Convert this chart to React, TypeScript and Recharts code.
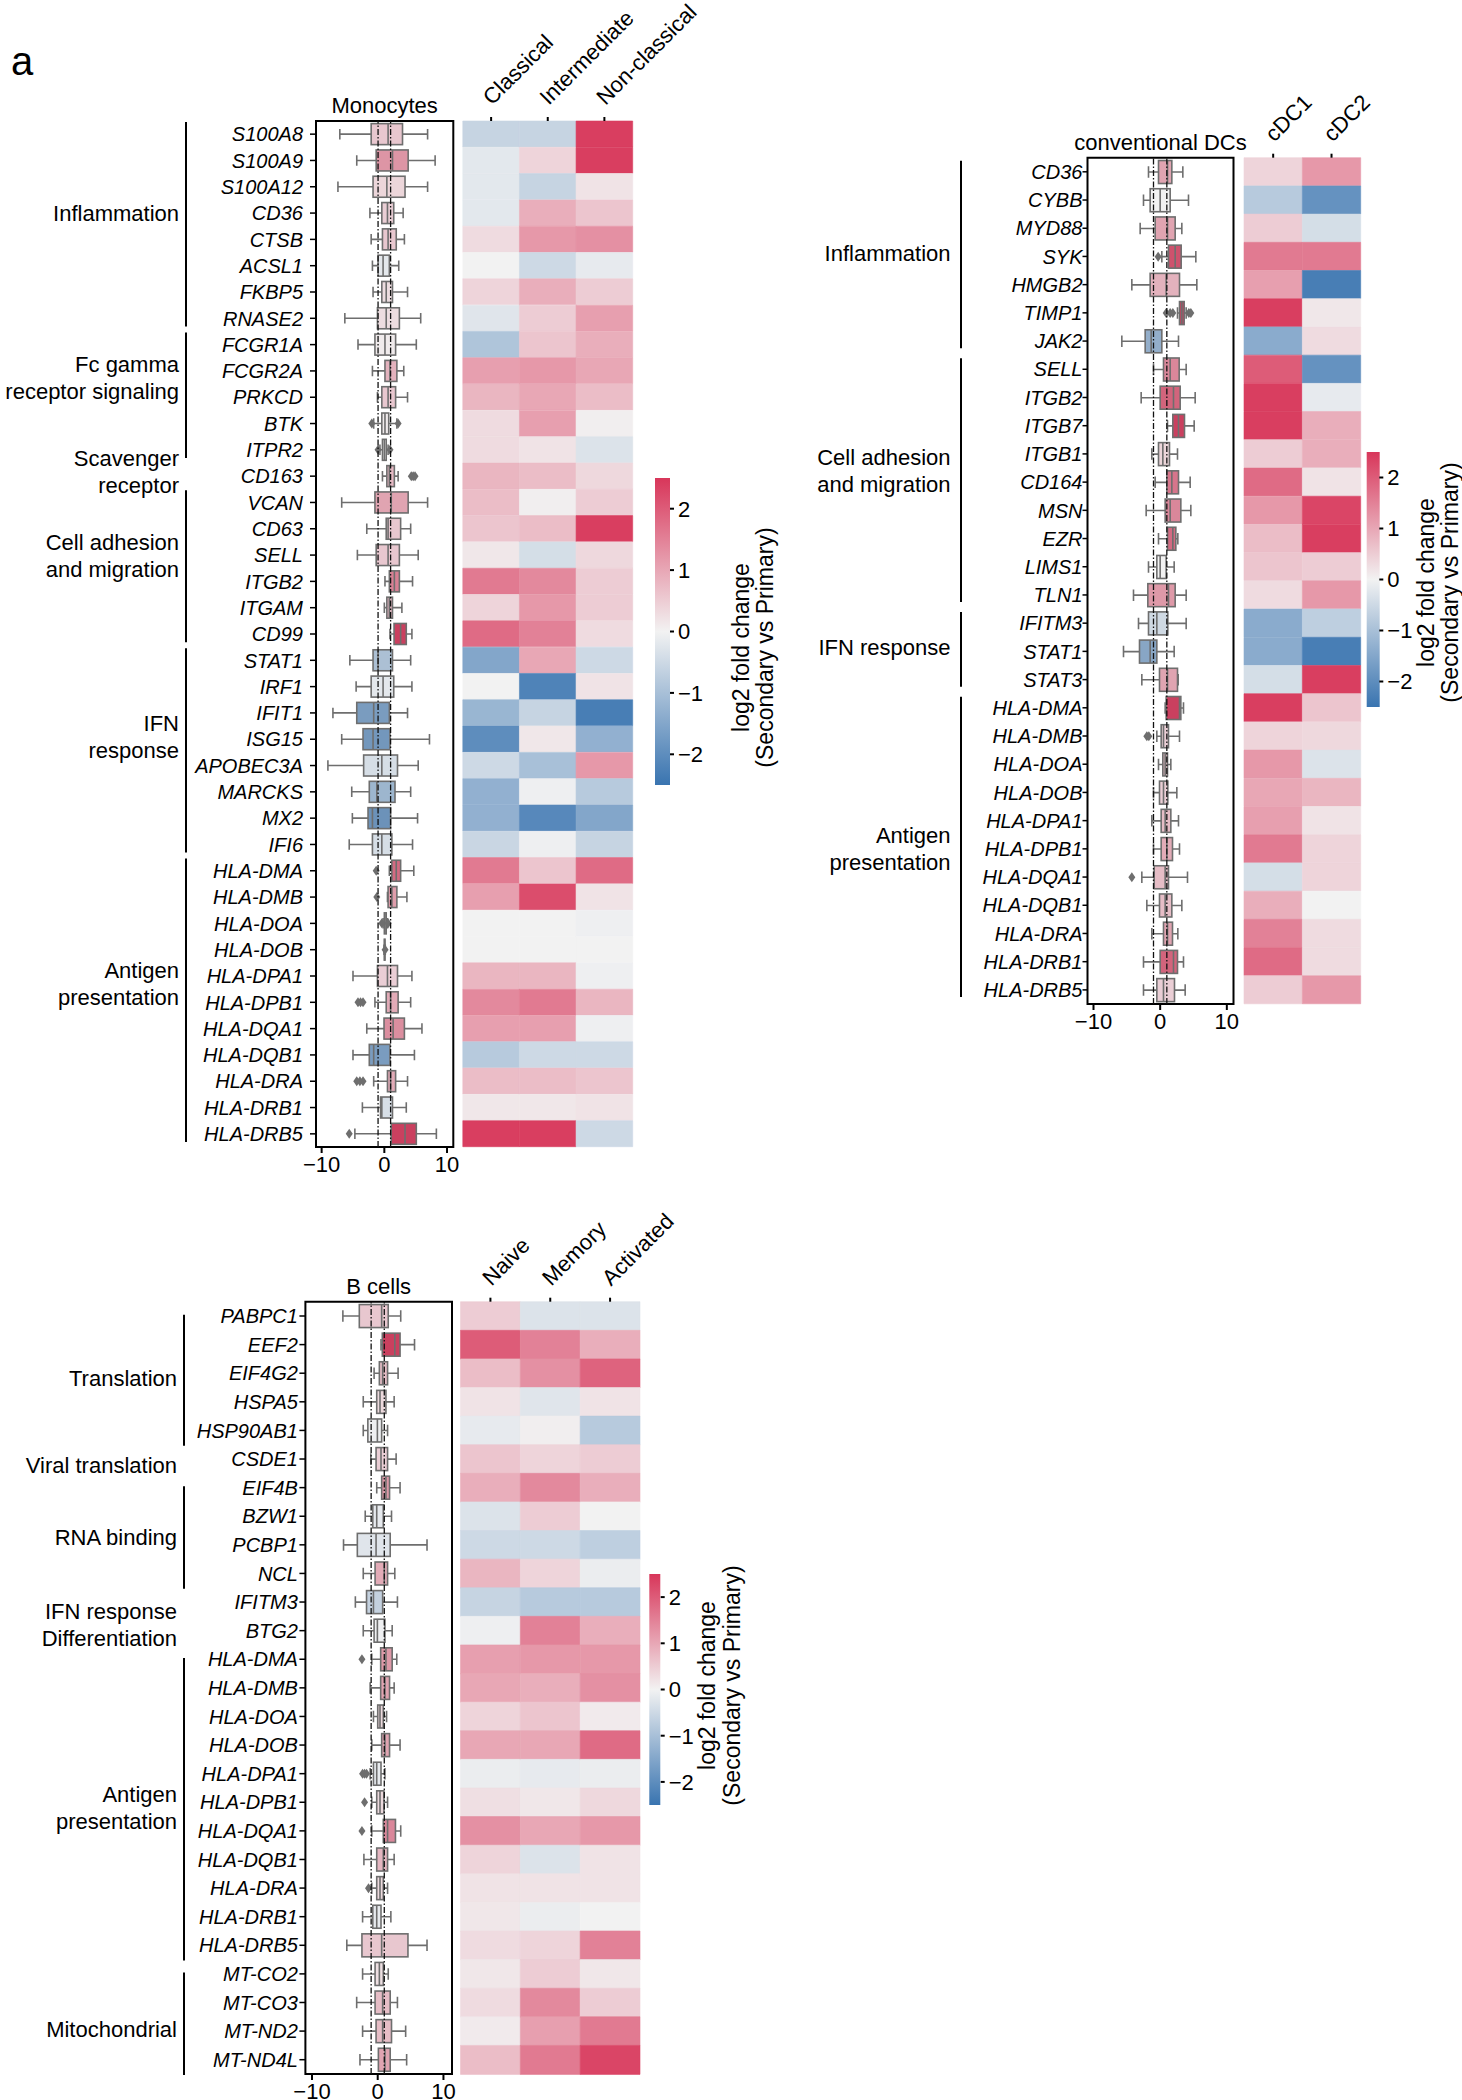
import React from "react";
import {
  Bar,
  BarChart,
  Cell,
  ComposedChart,
  ReferenceArea,
  ReferenceLine,
  XAxis,
  YAxis,
} from "recharts";

const FONT = '"Liberation Sans", Arial, Helvetica, sans-serif';

// ---------- Monocytes ----------
const monoGenes = [
  "S100A8", "S100A9", "S100A12", "CD36", "CTSB", "ACSL1", "FKBP5", "RNASE2",
  "FCGR1A", "FCGR2A", "PRKCD", "BTK", "ITPR2", "CD163", "VCAN", "CD63", "SELL",
  "ITGB2", "ITGAM", "CD99", "STAT1", "IRF1", "IFIT1", "ISG15", "APOBEC3A",
  "MARCKS", "MX2", "IFI6", "HLA-DMA", "HLA-DMB", "HLA-DOA", "HLA-DOB",
  "HLA-DPA1", "HLA-DPB1", "HLA-DQA1", "HLA-DQB1", "HLA-DRA", "HLA-DRB1", "HLA-DRB5",
];
const monoLow = [-7.1, -4.4, -7.4, -2.3, -2.1, -1.9, -1.8, -6.3, -4.2, -1.9, -1.1, -1.7, -0.7, -0.3, -6.8, -2.8, -4.3, 0.1, 0.0, 0.9, -5.5, -4.5, -8.2, -6.8, -9.0, -5.2, -5.1, -5.6, 0.8, 0.5, -0.2, -0.05, -5.0, -1.5, -2.8, -5.0, -1.7, -3.5, -4.7];
const monoQ1 = [-2.1, -1.3, -1.8, -0.4, -0.3, -1.0, -0.4, -1.1, -1.5, 0.1, -0.4, -0.4, -0.3, 0.4, -1.5, 0.3, -1.3, 0.8, 0.4, 1.55, -1.8, -2.1, -4.4, -3.4, -3.3, -2.4, -2.6, -1.9, 1.2, 0.6, 0.0, 0.0, -1.1, 0.3, -0.05, -2.4, 0.5, -0.6, 1.1];
const monoMed = [0.6, 1.3, 0.4, 0.5, 0.6, -0.2, 0.3, 0.3, 0.1, 0.9, 0.6, 0.1, 0.0, 0.8, 1.1, 0.6, 0.6, 1.6, 0.8, 2.6, -1.0, -0.2, -1.7, -1.8, -0.4, -1.2, -1.9, -0.4, 1.9, 1.2, 0.1, 0.05, 0.5, 1.0, 1.4, -1.7, 1.0, -0.4, 3.3];
const monoQ3 = [2.9, 3.8, 3.3, 1.5, 1.9, 0.8, 1.3, 2.4, 1.8, 2.0, 1.8, 0.7, 0.3, 1.6, 3.8, 2.6, 2.4, 2.4, 1.3, 3.5, 1.3, 1.5, 0.8, 0.9, 2.1, 1.7, 1.0, 1.2, 2.6, 2.0, 0.3, 0.1, 2.1, 2.2, 3.2, 0.9, 1.8, 1.3, 5.1];
const monoHigh = [6.9, 8.1, 6.9, 3.0, 3.2, 2.3, 3.7, 5.8, 5.1, 3.1, 3.7, 2.0, 0.6, 2.2, 6.9, 4.2, 5.4, 4.5, 2.8, 4.4, 4.2, 4.4, 3.7, 7.2, 5.4, 4.2, 5.3, 4.5, 4.7, 3.6, 0.5, 0.15, 4.4, 4.2, 6.0, 4.8, 3.7, 3.5, 8.3];
const monoOutliers: Record<string, number[]> = {
  BTK: [-2.0, 2.2],
  ITPR2: [-1.0, 0.9],
  CD163: [4.3, 4.6, 4.9],
  "HLA-DMA": [-1.3],
  "HLA-DMB": [-1.2],
  "HLA-DOA": [-0.4, 0.6],
  "HLA-DOB": [0.12],
  "HLA-DPB1": [-4.2, -3.8, -3.4],
  "HLA-DRA": [-4.4, -3.9, -3.4],
  "HLA-DRB5": [-5.6],
};
const monoCols = ["Classical", "Intermediate", "Non-classical"];
const monoClassical = [-0.6, -0.2, -0.2, -0.2, 0.3, 0.0, 0.4, -0.25, -0.9, 1.1, 0.8, 0.3, 0.3, 0.8, 0.7, 0.6, 0.15, 1.6, 0.4, 1.8, -1.5, 0.0, -1.2, -2.0, -0.5, -1.3, -1.3, -0.55, 1.6, 1.1, 0.0, 0.0, 0.8, 1.4, 1.1, -0.8, 0.7, 0.15, 2.4];
const monoIntermediate = [-0.6, 0.4, -0.6, 0.9, 1.2, -0.5, 0.9, 0.5, 0.6, 1.2, 1.0, 1.1, 0.2, 0.7, 0.05, 0.7, -0.4, 1.4, 1.2, 1.5, 1.0, -2.2, -0.6, 0.15, -1.0, -0.05, -2.1, -0.05, 0.6, 2.2, 0.0, 0.0, 0.8, 1.6, 1.1, -0.5, 0.7, 0.15, 2.4];
const monoNonClassical = [2.4, 2.4, 0.2, 0.6, 1.3, -0.15, 0.5, 1.1, 0.9, 1.0, 0.7, 0.05, -0.3, 0.35, 0.5, 2.4, 0.35, 0.5, 0.5, 0.3, -0.5, 0.2, -2.3, -1.3, 1.2, -0.8, -1.5, -0.6, 1.8, 0.2, -0.05, 0.0, -0.05, 0.8, -0.05, -0.5, 0.6, 0.2, -0.5];

// ---------- conventional DCs ----------
const dcGenes = [
  "CD36", "CYBB", "MYD88", "SYK", "HMGB2", "TIMP1", "JAK2", "SELL", "ITGB2",
  "ITGB7", "ITGB1", "CD164", "MSN", "EZR", "LIMS1", "TLN1", "IFITM3", "STAT1",
  "STAT3", "HLA-DMA", "HLA-DMB", "HLA-DOA", "HLA-DOB", "HLA-DPA1", "HLA-DPB1",
  "HLA-DQA1", "HLA-DQB1", "HLA-DRA", "HLA-DRB1", "HLA-DRB5",
];
const dcLow = [-1.75, -2.5, -3.0, 0.25, -4.25, 2.6, -5.75, -1.0, -2.85, 1.1, -1.25, -0.75, -2.1, -0.25, -1.75, -4.0, -3.25, -5.5, -2.75, 0.75, -0.5, -0.25, -1.0, -1.25, -1.0, -2.75, -2.0, -1.25, -2.5, -2.5];
const dcQ1 = [-0.25, -1.5, -0.75, 1.25, -1.5, 2.9, -2.25, 0.5, 0.0, 1.9, -0.25, 1.0, 0.75, 1.1, -0.5, -1.85, -1.75, -3.1, -0.1, 0.9, 0.15, 0.4, -0.1, 0.15, 0.15, -0.9, -0.1, 0.5, 0.0, -0.5];
const dcMed = [1.1, 0.0, 1.1, 2.25, 0.9, 3.25, -1.35, 1.5, 2.0, 2.75, 0.4, 1.75, 1.5, 1.9, 0.0, 1.25, -0.5, -1.5, 1.1, 2.9, 0.5, 0.75, 0.5, 0.75, 1.0, 0.75, 0.75, 1.1, 2.0, 0.5];
const dcQ3 = [1.75, 1.5, 2.25, 3.15, 2.9, 3.6, 0.25, 2.85, 3.0, 3.65, 1.4, 2.75, 3.1, 2.35, 0.9, 2.25, 1.15, -0.5, 2.6, 3.1, 1.25, 1.1, 1.15, 1.6, 1.85, 1.25, 1.75, 1.85, 2.6, 2.15];
const dcHigh = [3.4, 4.25, 3.25, 5.35, 5.5, 3.9, 2.75, 3.9, 5.25, 5.1, 2.6, 4.5, 4.6, 2.65, 2.1, 3.9, 3.9, 2.1, 2.7, 3.5, 2.9, 1.6, 2.5, 2.75, 2.9, 4.1, 3.25, 2.65, 3.5, 3.75];
const dcOutliers: Record<string, number[]> = {
  SYK: [-0.3],
  TIMP1: [0.9, 1.5, 1.9, 4.3, 4.6],
  "HLA-DMB": [-2.0, -1.7],
  "HLA-DQA1": [-4.25],
};
const dcCols = ["cDC1", "cDC2"];
const dcCDC1 = [0.4, -0.8, 0.5, 1.6, 1.1, 2.4, -1.4, 2.0, 2.4, 2.4, 0.5, 1.8, 1.2, 0.7, 0.6, 0.3, -1.4, -1.4, -0.4, 2.4, 0.4, 1.2, 1.0, 1.1, 1.6, -0.4, 0.9, 1.5, 1.8, 0.5];
const dcCDC2 = [1.2, -1.9, -0.4, 1.6, -2.3, 0.15, 0.3, -1.9, -0.15, 0.9, 0.9, 0.2, 2.3, 2.4, 0.5, 1.2, -0.7, -2.3, 2.4, 0.6, 0.35, -0.3, 0.8, 0.2, 0.4, 0.4, 0.0, 0.3, 0.3, 1.2];

// ---------- B cells ----------
const bGenes = [
  "PABPC1", "EEF2", "EIF4G2", "HSPA5", "HSP90AB1", "CSDE1", "EIF4B", "BZW1",
  "PCBP1", "NCL", "IFITM3", "BTG2", "HLA-DMA", "HLA-DMB", "HLA-DOA", "HLA-DOB",
  "HLA-DPA1", "HLA-DPB1", "HLA-DQA1", "HLA-DQB1", "HLA-DRA", "HLA-DRB1",
  "HLA-DRB5", "MT-CO2", "MT-CO3", "MT-ND2", "MT-ND4L",
];
const bLow = [-5.3, 0.5, -0.55, -2.2, -2.2, -1.05, -0.15, -1.9, -5.2, -2.2, -3.4, -2.2, -0.9, -1.15, -0.65, -0.9, -1.15, -0.9, -0.9, -2.1, -0.9, -2.3, -4.7, -2.3, -3.2, -2.3, -2.7];
const bQ1 = [-2.8, 0.7, 0.25, -0.15, -1.5, -0.25, 0.6, -0.75, -3.1, -0.4, -1.7, -0.55, 0.45, 0.45, 0.0, 0.6, -0.65, -0.15, 0.85, -0.15, -0.15, -0.75, -2.4, -0.4, -0.4, -0.25, 0.1];
const bMed = [0.6, 2.6, 0.75, 0.35, -0.05, 0.5, 1.25, -0.15, -0.25, 1.0, -0.65, -0.05, 1.25, 1.1, 0.35, 1.1, -0.15, 0.35, 1.5, 0.85, 0.35, -0.15, 0.6, 0.25, 0.75, 0.75, 1.1];
const bQ3 = [1.6, 3.4, 1.5, 1.25, 0.6, 1.5, 1.8, 0.85, 1.9, 1.5, 0.75, 1.1, 2.2, 1.8, 0.85, 1.8, 0.5, 0.95, 2.7, 1.5, 0.85, 0.5, 4.6, 0.85, 1.9, 2.1, 1.9];
const bHigh = [3.5, 5.6, 3.1, 2.5, 1.5, 2.8, 3.4, 2.1, 7.5, 2.6, 3.0, 2.2, 2.9, 2.5, 1.35, 3.4, 1.1, 1.5, 3.5, 2.5, 1.5, 2.0, 7.5, 1.6, 3.0, 4.25, 4.4];
const bOutliers: Record<string, number[]> = {
  "HLA-DMA": [-2.4],
  "HLA-DPA1": [-2.3, -2.0, -1.7],
  "HLA-DPB1": [-2.0],
  "HLA-DQA1": [-2.4],
  "HLA-DRA": [-1.4],
};
const bCols = ["Naive", "Memory", "Activated"];
const bNaive = [0.5, 2.0, 0.7, 0.2, -0.15, 0.6, 0.9, -0.3, -0.5, 0.8, -0.6, -0.05, 1.1, 1.0, 0.4, 1.0, -0.1, 0.25, 1.3, 0.4, 0.2, 0.15, 0.3, 0.15, 0.3, 0.1, 0.7];
const bMemory = [-0.3, 1.5, 1.3, -0.25, 0.05, 0.4, 1.4, 0.5, -0.5, 0.4, -0.8, 1.5, 1.2, 0.9, 0.6, 1.0, -0.15, 0.15, 1.0, -0.3, 0.2, -0.1, 0.4, 0.5, 1.4, 1.1, 1.6];
const bActivated = [-0.3, 0.9, 1.9, 0.2, -0.8, 0.5, 0.9, 0.0, -0.7, -0.1, -0.8, 0.9, 1.2, 1.3, 0.1, 1.8, -0.1, 0.35, 1.2, 0.2, 0.2, 0.0, 1.5, 0.15, 0.5, 1.6, 2.3];

// colour scale + axis ticks
const cbRange: [number, number] = [-2.5, 2.5];
const cbTicks = [-2, -1, 0, 1, 2];
const boxTicks = [-10, 0, 10];
const foldLines = [-1, 1];

type Group = { lines: string[]; start: number; end: number; at: number; bracket: boolean };

const monoGroups: Group[] = [
  { lines: ["Inflammation"], start: 0, end: 7, at: 3.0, bracket: true },
  { lines: ["Fc gamma", "receptor signaling"], start: 8, end: 12, at: 9.25, bracket: true },
  { lines: ["Scavenger", "receptor"], start: 13, end: 13, at: 12.84, bracket: false },
  { lines: ["Cell adhesion", "and migration"], start: 14, end: 19, at: 16.03, bracket: true },
  { lines: ["IFN", "response"], start: 20, end: 27, at: 22.9, bracket: true },
  { lines: ["Antigen", "presentation"], start: 28, end: 38, at: 32.28, bracket: true },
];
const dcGroups: Group[] = [
  { lines: ["Inflammation"], start: 0, end: 6, at: 2.88, bracket: true },
  { lines: ["Cell adhesion", "and migration"], start: 7, end: 15, at: 10.6, bracket: true },
  { lines: ["IFN response"], start: 16, end: 18, at: 16.85, bracket: true },
  { lines: ["Antigen", "presentation"], start: 19, end: 29, at: 24.0, bracket: true },
];
const bGroups: Group[] = [
  { lines: ["Translation"], start: 0, end: 4, at: 2.17, bracket: true },
  { lines: ["Viral translation"], start: 5, end: 5, at: 5.21, bracket: false },
  { lines: ["RNA binding"], start: 6, end: 9, at: 7.72, bracket: true },
  { lines: ["IFN response"], start: 10, end: 10, at: 10.3, bracket: false },
  { lines: ["Differentiation"], start: 11, end: 11, at: 11.25, bracket: false },
  { lines: ["Antigen", "presentation"], start: 12, end: 22, at: 17.2, bracket: true },
  { lines: ["Mitochondrial"], start: 23, end: 26, at: 24.94, bracket: true },
];

// ---------- colours ----------
const RED = [216, 54, 90];
const MID = [242, 242, 242];
const BLUE = [57, 116, 176];

const heatRgb = (v: number) => {
  const t = Math.max(-1, Math.min(1, v / cbRange[1]));
  const end = t >= 0 ? RED : BLUE;
  const a = Math.abs(t);
  return MID.map((m, i) => m + (end[i] - m) * a);
};
const rgb = (c: number[]) => `rgb(${c.map((v) => Math.round(v)).join(",")})`;
const heatColor = (v: number) => rgb(heatRgb(v));
const boxColor = (v: number) => {
  const c = heatRgb(v);
  const g = (c[0] + c[1] + c[2]) / 3;
  return rgb(c.map((ch) => g + (ch - g) * 0.85));
};
const LINE = "#6e6e6e";
const fmt = (v: number) => (v < 0 ? `\u2212${Math.abs(v)}` : `${v}`);

// ---------- box plot shape ----------
const BoxShape = (props: any) => {
  const { x, y, width, height, payload } = props;
  if (!payload || !isFinite(x) || !isFinite(width)) return null;
  const k = width / (payload.hi - payload.lo);
  const px = (v: number) => x + (v - payload.lo) * k;
  const cy = y + height / 2;
  const cap = height / 4;
  const x1 = px(payload.q1);
  const x3 = px(payload.q3);
  const xm = px(payload.med);
  const xl = px(payload.lo);
  const xh = px(payload.hi);
  return (
    <g>
      <line x1={xl} x2={x1} y1={cy} y2={cy} stroke={LINE} strokeWidth={1.6} />
      <line x1={x3} x2={xh} y1={cy} y2={cy} stroke={LINE} strokeWidth={1.6} />
      <line x1={xl} x2={xl} y1={cy - cap} y2={cy + cap} stroke={LINE} strokeWidth={1.6} />
      <line x1={xh} x2={xh} y1={cy - cap} y2={cy + cap} stroke={LINE} strokeWidth={1.6} />
      <rect x={x1} y={y} width={Math.max(x3 - x1, 0.5)} height={height} fill={boxColor(payload.med)} stroke={LINE} strokeWidth={1.6} />
      <line x1={xm} x2={xm} y1={y} y2={y + height} stroke={LINE} strokeWidth={1.6} />
      {payload.out.map((o: number, j: number) => {
        const ox = px(o);
        return <path key={j} d={`M${ox},${cy - 5} L${ox + 3.5},${cy} L${ox},${cy + 5} L${ox - 3.5},${cy} Z`} fill={LINE} />;
      })}
    </g>
  );
};

const RowTick = (props: any) => {
  const { x, y, payload, cfg } = props;
  const i = cfg.genes.indexOf(payload.value);
  const h = (cfg.plot.bottom - cfg.plot.top) / cfg.genes.length;
  const out: React.ReactNode[] = [
    <text key="g" x={x} y={y} dy="0.36em" textAnchor="end" fontSize={20} fontStyle="italic" fontFamily={FONT} fill="#000">
      {payload.value}
    </text>,
  ];
  cfg.groups.forEach((g: Group, gi: number) => {
    if (g.start !== i) return;
    const top = y - h / 2;
    if (g.bracket) {
      out.push(
        <line key={`b${gi}`} x1={cfg.bracketX} x2={cfg.bracketX} y1={top + cfg.padTop} y2={top + (g.end - g.start + 1) * h - cfg.padBottom} stroke="#000" strokeWidth={2} />
      );
    }
    const cy = y + (g.at - i) * h;
    g.lines.forEach((ln, k) =>
      out.push(
        <text key={`t${gi}-${k}`} x={cfg.labelX} y={cy + (k - (g.lines.length - 1) / 2) * 27} dy="0.36em" textAnchor="end" fontSize={22} fontFamily={FONT} fill="#000">
          {ln}
        </text>
      )
    );
  });
  return <g>{out}</g>;
};

const BoxPanel = ({ cfg }: { cfg: any }) => {
  const rows = cfg.genes.map((g: string, i: number) => ({
    gene: g,
    lo: cfg.low[i],
    q1: cfg.q1[i],
    med: cfg.med[i],
    q3: cfg.q3[i],
    hi: cfg.high[i],
    out: cfg.outliers[g] ?? [],
  }));
  const { box, plot } = cfg;
  const xAxisH = 30;
  return (
    <div style={{ position: "absolute", left: box.left, top: box.top }}>
      <ComposedChart
        layout="vertical"
        width={box.width}
        height={box.height}
        data={rows}
        margin={{ top: plot.top, left: 0, right: box.width - plot.right, bottom: box.height - plot.bottom - xAxisH }}
        style={{ fontFamily: FONT }}
      >
        <XAxis
          type="number"
          domain={cfg.domain}
          allowDataOverflow
          ticks={boxTicks}
          tickFormatter={fmt}
          height={xAxisH}
          axisLine={false}
          tickSize={6}
          tickMargin={3}
          tickLine={{ stroke: "#000", strokeWidth: 2 }}
          tick={{ fontSize: 22, fill: "#000", fontFamily: FONT }}
        />
        <YAxis
          type="category"
          dataKey="gene"
          width={plot.left}
          interval={0}
          axisLine={false}
          tickSize={cfg.tickSize}
          tickMargin={cfg.tickMargin}
          tickLine={{ stroke: "#000", strokeWidth: 1.5 }}
          tick={(p: any) => <RowTick {...p} cfg={cfg} />}
        />
        {foldLines.map((v) => (
          <ReferenceLine key={v} x={v} stroke="#111" strokeWidth={1.3} strokeDasharray="6 2 1.5 2" />
        ))}
        <Bar dataKey={(d: any) => [d.lo, d.hi]} shape={BoxShape} isAnimationActive={false} />
        <ReferenceArea
          x1={cfg.domain[0]}
          x2={cfg.domain[1]}
          fill="none"
          stroke="#000"
          strokeWidth={2}
          label={{ value: cfg.title, position: "top", offset: 8, fontSize: 22, fill: "#000", fontFamily: FONT }}
        />
      </ComposedChart>
    </div>
  );
};

const ColTick = (props: any) => {
  const { x, y, payload, cols } = props;
  const name = cols[Math.floor(payload.value)];
  return (
    <text transform={`translate(${x + 1},${y - 9}) rotate(-45)`} textAnchor="start" fontSize={22} fontFamily={FONT} fill="#000">
      {name}
    </text>
  );
};

const HeatPanel = ({ cfg }: { cfg: any }) => {
  const rows = cfg.genes.map((g: string, i: number) => {
    const r: any = { gene: g };
    cfg.values.forEach((arr: number[], c: number) => {
      r[`v${c}`] = arr[i];
      r[`w${c}`] = 1;
    });
    return r;
  });
  const { box, plot } = cfg;
  const axisH = 40;
  return (
    <div style={{ position: "absolute", left: box.left, top: box.top }}>
      <ComposedChart
        layout="vertical"
        width={box.width}
        height={box.height}
        data={rows}
        barCategoryGap={0}
        barGap={0}
        margin={{ top: plot.top - axisH, left: plot.left, right: box.width - plot.right, bottom: box.height - plot.bottom }}
      >
        <XAxis
          type="number"
          orientation="top"
          domain={[0, cfg.cols.length]}
          ticks={cfg.cols.map((_: string, c: number) => c + 0.5)}
          interval={0}
          height={axisH}
          axisLine={false}
          tickSize={4}
          tickLine={{ stroke: "#000", strokeWidth: 2 }}
          tick={(p: any) => <ColTick {...p} cols={cfg.cols} />}
        />
        <YAxis type="category" dataKey="gene" hide />
        {cfg.cols.map((_: string, c: number) => (
          <Bar key={c} dataKey={`w${c}`} stackId="heat" isAnimationActive={false}>
            {rows.map((r: any, i: number) => (
              <Cell key={i} fill={heatColor(r[`v${c}`])} stroke={heatColor(r[`v${c}`])} strokeWidth={0.6} />
            ))}
          </Bar>
        ))}
      </ComposedChart>
    </div>
  );
};

const CbLabel = (props: any) => {
  const { viewBox, cfg } = props;
  if (!viewBox) return null;
  const { x, y, height } = viewBox;
  const cy = y + height / 2 + cfg.labelDy;
  return (
    <g fontFamily={FONT} fontSize={23} fill="#000">
      <text transform={`translate(${x + cfg.line1},${cy}) rotate(-90)`} textAnchor="middle">
        log2 fold change
      </text>
      <text transform={`translate(${x + cfg.line2},${cy}) rotate(-90)`} textAnchor="middle">
        (Secondary vs Primary)
      </text>
    </g>
  );
};

const ColorbarPanel = ({ cfg }: { cfg: any }) => {
  const { box, plot } = cfg;
  const id = `cbgrad-${cfg.id}`;
  const data = [{ name: "cb", lo: cbRange[0], hi: cbRange[1] }];
  return (
    <div style={{ position: "absolute", left: box.left, top: box.top }}>
      <BarChart
        width={box.width}
        height={box.height}
        data={data}
        barCategoryGap={0}
        margin={{ top: plot.top, left: plot.left, right: 0, bottom: box.height - plot.bottom }}
      >
        <defs>
          <linearGradient id={id} x1="0" y1="0" x2="0" y2="1">
            <stop offset="0%" stopColor={heatColor(cbRange[1])} />
            <stop offset="50%" stopColor={heatColor(0)} />
            <stop offset="100%" stopColor={heatColor(cbRange[0])} />
          </linearGradient>
        </defs>
        <XAxis dataKey="name" hide />
        <YAxis
          orientation="right"
          type="number"
          domain={cbRange}
          ticks={cbTicks}
          tickFormatter={fmt}
          width={box.width - plot.right}
          axisLine={false}
          tickSize={4}
          tickMargin={4}
          tickLine={{ stroke: "#000", strokeWidth: 2 }}
          tick={{ fontSize: 22, fill: "#000", fontFamily: FONT }}
          label={{ content: (p: any) => <CbLabel {...p} cfg={cfg} /> }}
        />
        <Bar dataKey={(d: any) => [d.lo, d.hi]} fill={`url(#${id})`} isAnimationActive={false} />
      </BarChart>
    </div>
  );
};

// ---------- layout ----------
const monoBox = {
  title: "Monocytes",
  genes: monoGenes, low: monoLow, q1: monoQ1, med: monoMed, q3: monoQ3, high: monoHigh,
  outliers: monoOutliers, groups: monoGroups, domain: [-10.9, 11],
  box: { left: 0, top: 0, width: 470, height: 1200 },
  plot: { left: 316, right: 453.3, top: 121, bottom: 1147 },
  tickSize: 6, tickMargin: 7, bracketX: 186, labelX: 179, padTop: 1, padBottom: 5,
};
const dcBox = {
  title: "conventional DCs",
  genes: dcGenes, low: dcLow, q1: dcQ1, med: dcMed, q3: dcQ3, high: dcHigh,
  outliers: dcOutliers, groups: dcGroups, domain: [-10.9, 11],
  box: { left: 770, top: 0, width: 480, height: 1060 },
  plot: { left: 317.5, right: 463.5, top: 157.7, bottom: 1004 },
  tickSize: 5, tickMargin: 0, bracketX: 191, labelX: 180.5, padTop: 3, padBottom: 7,
};
const bBox = {
  title: "B cells",
  genes: bGenes, low: bLow, q1: bQ1, med: bMed, q3: bQ3, high: bHigh,
  outliers: bOutliers, groups: bGroups, domain: [-11, 11.3],
  box: { left: 0, top: 1190, width: 470, height: 920 },
  plot: { left: 305.4, right: 452, top: 111.7, bottom: 884 },
  tickSize: 6, tickMargin: 1.5, bracketX: 184, labelX: 177, padTop: 13, padBottom: -1,
};

const monoHeat = {
  genes: monoGenes, cols: monoCols, values: [monoClassical, monoIntermediate, monoNonClassical],
  box: { left: 440, top: 0, width: 290, height: 1160 },
  plot: { left: 22.8, right: 192.7, top: 121, bottom: 1147 },
};
const dcHeat = {
  genes: dcGenes, cols: dcCols, values: [dcCDC1, dcCDC2],
  box: { left: 1220, top: 0, width: 200, height: 1020 },
  plot: { left: 24, right: 140.7, top: 157.7, bottom: 1004 },
};
const bHeat = {
  genes: bGenes, cols: bCols, values: [bNaive, bMemory, bActivated],
  box: { left: 440, top: 1190, width: 290, height: 900 },
  plot: { left: 20.5, right: 200, top: 111.7, bottom: 884 },
};

const monoCb = {
  id: "mono", box: { left: 640, top: 440, width: 150, height: 380 },
  plot: { left: 15, right: 30, top: 38, bottom: 345 }, line1: 79, line2: 103, labelDy: 16,
};
const dcCb = {
  id: "dc", box: { left: 1350, top: 420, width: 112, height: 320 },
  plot: { left: 16.7, right: 29.3, top: 32, bottom: 287 }, line1: 55, line2: 79, labelDy: 3,
};
const bCb = {
  id: "b", box: { left: 635, top: 1540, width: 135, height: 300 },
  plot: { left: 14.3, right: 25.7, top: 34, bottom: 265 }, line1: 54, line2: 79, labelDy: -4,
};

export default function App() {
  return (
    <div style={{ position: "absolute", left: 0, top: 0, width: 1462, height: 2100, background: "#fff", fontFamily: FONT }}>
      <svg width={60} height={90} style={{ position: "absolute", left: 0, top: 0 }}>
        <text x={11} y={75} fontSize={40} fontFamily={FONT} fill="#000">
          a
        </text>
      </svg>
      <BoxPanel cfg={monoBox} />
      <HeatPanel cfg={monoHeat} />
      <ColorbarPanel cfg={monoCb} />
      <BoxPanel cfg={dcBox} />
      <HeatPanel cfg={dcHeat} />
      <ColorbarPanel cfg={dcCb} />
      <BoxPanel cfg={bBox} />
      <HeatPanel cfg={bHeat} />
      <ColorbarPanel cfg={bCb} />
    </div>
  );
}
